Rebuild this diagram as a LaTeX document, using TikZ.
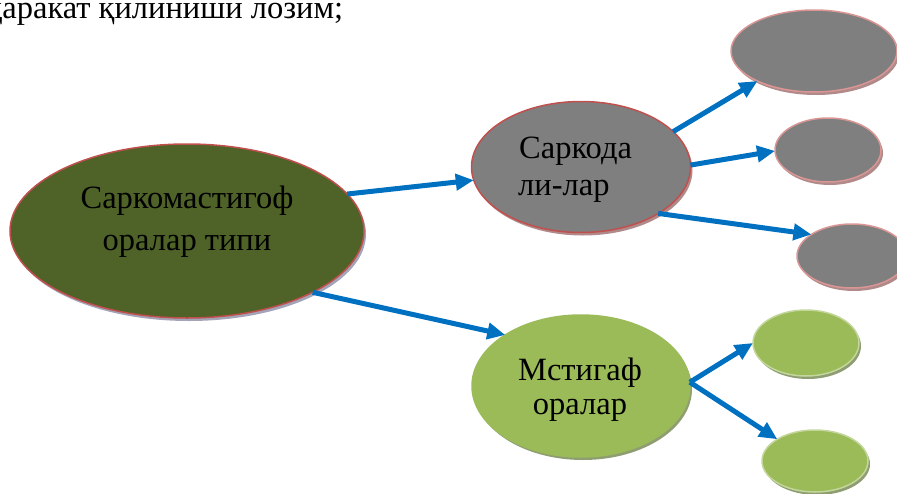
\documentclass[tikz,border=0pt]{standalone}
\usepackage{fontspec}
\setmainfont{Liberation Serif}
\usetikzlibrary{arrows.meta,shapes.geometric,shadows}
\definecolor{mainfill}{HTML}{4F6228}
\definecolor{mainshadow}{HTML}{A4A4B8}
\definecolor{redborder}{HTML}{C0504D}
\definecolor{pinkborder}{HTML}{D99694}
\definecolor{greyfill}{HTML}{7F7F7F}
\definecolor{greyshadow}{HTML}{B08A8A}
\definecolor{greenfill}{HTML}{9BBB59}
\definecolor{greenborder}{HTML}{C3D69B}
\definecolor{greenshadow}{HTML}{8E9E72}
\definecolor{arrowblue}{HTML}{0070C0}
\begin{document}
\begin{tikzpicture}[x=1pt,y=-1pt,
  oval/.style={ellipse, inner sep=0pt, outer sep=0pt, line width=1.5pt},
  shad/.style={drop shadow={shadow xshift=2pt,shadow yshift=-3pt,fill=#1,opacity=1}},
  arr/.style={draw=arrowblue, line width=5pt, -{Triangle[length=18pt,width=16pt]}},
  lbl/.style={font=\fontsize{32.5}{38}\selectfont, inner sep=0pt}
]
\useasboundingbox (0,0) rectangle (897,493);

\node[lbl, anchor=base west] (toptext) at (-14,18) {ҳаракат қилиниши лозим;};

\node[oval, minimum width=354pt, minimum height=174pt, fill=mainfill, draw=redborder, shad=mainshadow] (main) at (187,231) {};
\node[oval, minimum width=219pt, minimum height=131pt, fill=greyfill, draw=redborder, shad=greyshadow] (sark) at (581,167) {};
\node[oval, minimum width=166pt, minimum height=82pt, fill=greyfill, draw=pinkborder, shad=greyshadow] (tr) at (814,51) {};
\node[oval, minimum width=106pt, minimum height=64pt, fill=greyfill, draw=pinkborder, shad=greyshadow] (mr) at (828,150) {};
\node[oval, minimum width=110pt, minimum height=64pt, fill=greyfill, draw=pinkborder, shad=greyshadow] (br) at (852,256) {};
\node[oval, minimum width=218pt, minimum height=142pt, fill=greenfill, draw=greenfill, shad=greenshadow] (mst) at (581,386) {};
\node[oval, minimum width=106pt, minimum height=66pt, fill=greenfill, draw=greenborder, shad=greenshadow] (gt) at (806,343) {};
\node[oval, minimum width=106pt, minimum height=62pt, fill=greenfill, draw=greenborder, shad=greenshadow] (gb) at (815,461) {};

\node[lbl, anchor=base] (mainA) at (187,208) {Саркомастигоф};
\node[lbl, anchor=base] (mainB) at (187,250) {оралар типи};
\node[lbl, anchor=base west] (sarkA) at (519,158) {Саркода};
\node[lbl, anchor=base west] (sarkB) at (518,195) {ли-лар};
\node[lbl, anchor=base] (mstA) at (580,380) {Мстигаф};
\node[lbl, anchor=base] (mstB) at (580,414) {оралар};

\draw[arr] (main.13) -- (sark.187);
\draw[arr] (main.334) -- (mst.146);
\draw[arr] (sark.21) -- (tr.208);
\draw[arr] (sark.1) -- (mr.181);
\draw[arr] (sark.329) -- (br.152);
\draw[arr] (mst.2) -- (gt.180);
\draw[arr] (mst.2) -- (gb.150);
\end{tikzpicture}
\end{document}
